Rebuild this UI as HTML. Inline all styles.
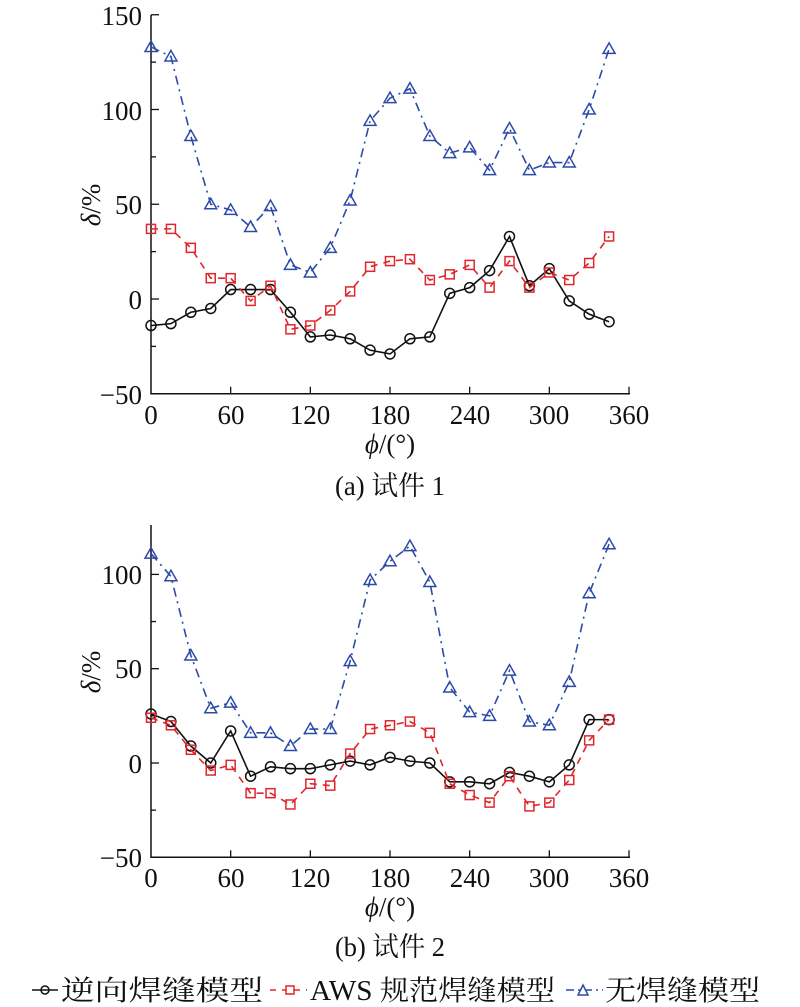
<!DOCTYPE html>
<html><head><meta charset="utf-8"><style>
body{margin:0;background:#fff}
svg{display:block}
text{font-family:"Liberation Serif","Noto Serif CJK SC",serif;fill:#111}
</style></head><body>
<svg id="s" width="800" height="1007" viewBox="0 0 800 1007" xmlns="http://www.w3.org/2000/svg">
<g font-size="27" text-anchor="end">
<text x="142" y="25">150</text><text x="142" y="120">100</text><text x="142" y="214">50</text><text x="142" y="309">0</text><text x="142" y="404">−50</text>
<text x="142" y="584">100</text><text x="142" y="678">50</text><text x="142" y="773">0</text><text x="142" y="867">−50</text>
</g>
<g font-size="27" text-anchor="middle">
<text x="151" y="424">0</text><text x="231" y="424">60</text><text x="310" y="424">120</text><text x="390" y="424">180</text><text x="470" y="424">240</text><text x="549" y="424">300</text><text x="629" y="424">360</text>
<text x="151" y="887">0</text><text x="231" y="887">60</text><text x="310" y="887">120</text><text x="390" y="887">180</text><text x="470" y="887">240</text><text x="549" y="887">300</text><text x="629" y="887">360</text>
<text x="390" y="453"><tspan font-style="italic">ϕ</tspan>/(°)</text>
<text x="390" y="916"><tspan font-style="italic">ϕ</tspan>/(°)</text>
</g>
<text font-size="27" x="335" y="495" textLength="110" lengthAdjust="spacingAndGlyphs">(a) 试件 1</text>
<text font-size="27" x="335" y="956" textLength="110" lengthAdjust="spacingAndGlyphs">(b) 试件 2</text>
<text font-size="27" transform="translate(100,205) rotate(-90)" text-anchor="middle"><tspan font-style="italic">δ</tspan>/%</text>
<text font-size="27" transform="translate(100,672) rotate(-90)" text-anchor="middle"><tspan font-style="italic">δ</tspan>/%</text>
<g font-size="28">
<line x1="32" y1="990" x2="58" y2="990" stroke="#111" stroke-width="1.6"/><circle cx="45" cy="990" r="4" fill="none" stroke="#111" stroke-width="1.5"/>
<text x="61" y="1000" textLength="202" lengthAdjust="spacingAndGlyphs">逆向焊缝模型</text>
<line x1="270" y1="990" x2="307" y2="990" stroke="#e0262b" stroke-width="1.5" stroke-dasharray="6,6"/><rect x="286" y="986" width="8" height="8" fill="#fff" stroke="#e0262b" stroke-width="1.5"/>
<text x="310" y="1000" textLength="245" lengthAdjust="spacingAndGlyphs">AWS 规范焊缝模型</text>
<line x1="566" y1="990" x2="603" y2="990" stroke="#2c4aa8" stroke-width="1.5" stroke-dasharray="8,4,2,4"/><path d="M583,985 L588,995 L578,995 Z" fill="#fff" stroke="#2c4aa8" stroke-width="1.5"/>
<text x="605" y="1000" textLength="155" lengthAdjust="spacingAndGlyphs">无焊缝模型</text>
</g>
<g id="plots"></g>
</svg>
<script>
var NS="http://www.w3.org/2000/svg",P=document.getElementById("plots");
function el(t,a){var e=document.createElementNS(NS,t);for(var k in a)e.setAttribute(k,a[k]);P.appendChild(e);return e;}
function chart(top,y0,ppu,ymin,ymax,data){
 var x0=151,px=478/360,yb=y0-ymin*ppu;
 el("path",{d:"M"+x0+","+top+" L"+x0+","+yb+" L630,"+yb,fill:"none",stroke:"#111","stroke-width":1.5});
 for(var v=ymin;v<=ymax;v+=25){var y=y0-v*ppu;el("line",{x1:x0,y1:y,x2:x0+(v%50==0?8:5),y2:y,stroke:"#111","stroke-width":1.3});}
 for(var d=60;d<=360;d+=60){var x=x0+d*px;el("line",{x1:x,y1:yb,x2:x,y2:yb-7,stroke:"#111","stroke-width":1.3});}
 var st=[{c:"#111",da:""},{c:"#e0262b",da:"7,6"},{c:"#2c4aa8",da:"9,5,2,5"}];
 data.forEach(function(s,i){
  var pts=s.map(function(v,j){return [x0+j*15*px,y0-v*ppu];});
  el("polyline",{points:pts.map(function(p){return p.join(",")}).join(" "),fill:"none",stroke:st[i].c,"stroke-width":1.6,"stroke-dasharray":st[i].da});
  pts.forEach(function(p){
   if(i==0)el("circle",{cx:p[0],cy:p[1],r:5,fill:"none",stroke:"#111","stroke-width":1.5});
   else if(i==1)el("rect",{x:p[0]-4.5,y:p[1]-4.5,width:9,height:9,fill:"none",stroke:st[1].c,"stroke-width":1.5});
   else el("path",{d:"M"+p[0]+","+(p[1]-6)+" L"+(p[0]+6)+","+(p[1]+4.5)+" L"+(p[0]-6)+","+(p[1]+4.5)+" Z",fill:"none",stroke:st[2].c,"stroke-width":1.5});
  });
 });
}
chart(15,299,1.895,-50,150,[
[-14,-13,-7,-5,5,5,5,-7,-20,-19,-21,-27,-29,-21,-20,3,6,15,33,7,16,-1,-8,-12],
[37,37,27,11,11,-1,7,-16,-14,-6,4,17,20,21,10,13,18,6,20,6,14,10,19,33],
[133,128,86,50,47,38,49,18,14,27,52,94,106,111,86,77,80,68,90,68,72,72,100,132]]);
chart(525,763,1.886,-50,100,[
[26,22,9,0,17,-7,-2,-3,-3,-1,1,-1,3,1,0,-10,-10,-11,-5,-7,-10,-1,23,23],
[24,20,7,-4,-1,-16,-16,-22,-11,-12,5,18,20,22,16,-11,-17,-21,-7,-23,-21,-9,12,23],
[111,99,57,29,32,16,16,9,18,18,54,97,107,115,96,40,27,25,49,22,20,43,90,116]]);
</script>
</body></html>
